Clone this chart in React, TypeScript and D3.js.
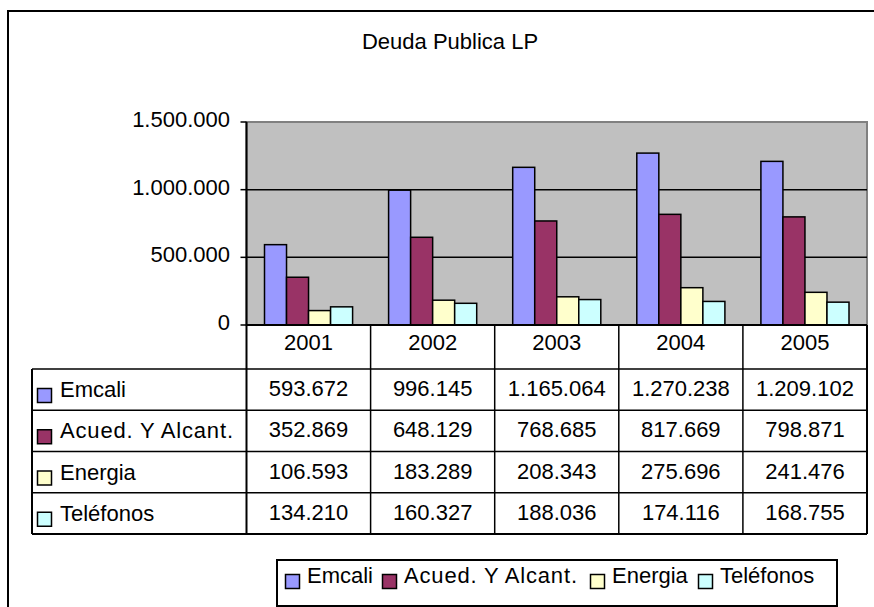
import React from "react";
import * as d3 from "d3";

const categories = ["2001", "2002", "2003", "2004", "2005"];
const seriesNames = ["Emcali", "Acued. Y Alcant.", "Energia", "Teléfonos"];
const emcali = [593672, 996145, 1165064, 1270238, 1209102];
const acued = [352869, 648129, 768685, 817669, 798871];
const energia = [106593, 183289, 208343, 275696, 241476];
const telefonos = [134210, 160327, 188036, 174116, 168755];
const yTicks = [0, 500000, 1000000, 1500000];
const title = "Deuda Publica LP";

const colors = ["#9999FF", "#993366", "#FFFFCC", "#CCFFFF"];

const locale = d3.formatLocale({ decimal: ",", thousands: ".", grouping: [3], currency: ["", ""] });
const fmt = locale.format(",d");

export default function App() {
  const W = 874, H = 607;
  const font = "'Liberation Sans', Arial, sans-serif";
  const fs = 22;
  const values = [emcali, acued, energia, telefonos];

  const plotL = 246.5, plotR = 867, plotT = 122, plotB = 325;
  const x = d3.scaleBand<string>().domain(categories).range([plotL, plotR]).paddingInner(0).paddingOuter(0);
  const inner = d3.scaleBand<string>().domain(seriesNames).range([18, x.bandwidth() - 18]).padding(0);
  const y = d3.scaleLinear().domain([0, 1500000]).range([plotB, plotT]);

  const tableL = 32, headerB = 369, tableB = 534;
  const rows = d3.scaleBand<string>().domain(seriesNames).range([headerB, tableB]);

  // legend layout (key square left edges)
  const legendSq = [285, 382, 590, 698];
  const legendBox = { x: 277, y: 560, w: 560, h: 46 };
  const wideLabel = (s: string) => (s === "Acued. Y Alcant." ? { textLength: 173, lengthAdjust: "spacing" } : {});

  return (
    <svg width={W} height={H} style={{ position: "absolute", left: 0, top: 0, background: "#fff" }} fontFamily={font}>
      <rect x={0} y={0} width={W} height={H} fill="#fff" />
      <rect x={8} y={11} width={1000} height={1000} fill="#fff" stroke="#000" strokeWidth={2} />
      <text x={450} y={49} fontSize={fs} textAnchor="middle">{title}</text>

      {/* plot area */}
      <rect x={plotL} y={plotT} width={plotR - plotL} height={plotB - plotT} fill="#C0C0C0" stroke="#808080" strokeWidth={2} />
      {yTicks.filter((t) => t > 0 && t < 1500000).map((t) => (
        <line key={t} x1={plotL} x2={plotR} y1={y(t)} y2={y(t)} stroke="#000" strokeWidth={1.5} />
      ))}
      {yTicks.map((t) => (
        <g key={"t" + t}>
          <line x1={plotL - 6} x2={plotL} y1={y(t)} y2={y(t)} stroke="#000" strokeWidth={1.5} />
          <text x={230} y={y(t) + 5} fontSize={fs} textAnchor="end">{fmt(t)}</text>
        </g>
      ))}

      {/* bars */}
      {categories.map((c, ci) => (
        <g key={c}>
          {seriesNames.map((s, si) => (
            <rect key={s}
              x={(x(c) as number) + (inner(s) as number)}
              y={y(values[si][ci])}
              width={inner.bandwidth()}
              height={plotB - y(values[si][ci])}
              fill={colors[si]} stroke="#000" strokeWidth={1.5} />
          ))}
        </g>
      ))}

      {/* axes */}
      <line x1={plotL} x2={plotL} y1={plotT} y2={tableB} stroke="#000" strokeWidth={2} />
      <line x1={plotL} x2={plotR} y1={plotB} y2={plotB} stroke="#000" strokeWidth={2} />

      {/* data table */}
      {categories.map((c) => (
        <g key={"h" + c}>
          <line x1={(x(c) as number) + x.bandwidth()} x2={(x(c) as number) + x.bandwidth()} y1={plotB} y2={tableB} stroke="#000" strokeWidth={1.5} />
          <text x={(x(c) as number) + x.bandwidth() / 2} y={plotB + 25} fontSize={fs} textAnchor="middle">{c}</text>
        </g>
      ))}
      <line x1={plotR} x2={plotR} y1={plotB} y2={tableB} stroke="#000" strokeWidth={2} />
      <line x1={tableL} x2={tableL} y1={headerB} y2={tableB} stroke="#000" strokeWidth={2} />
      {seriesNames.map((s, si) => {
        const top = rows(s) as number;
        return (
          <g key={"r" + s}>
            <line x1={tableL} x2={plotR} y1={top} y2={top} stroke="#000" strokeWidth={1.5} />
            <rect x={37.5} y={top + 19.5} width={14} height={14} fill={colors[si]} stroke="#000" strokeWidth={1.5} />
            <text x={60} y={top + 28} fontSize={fs} {...wideLabel(s)}>{s}</text>
            {categories.map((c, ci) => (
              <text key={c} x={(x(c) as number) + x.bandwidth() / 2} y={top + 27} fontSize={fs} textAnchor="middle">{fmt(values[si][ci])}</text>
            ))}
          </g>
        );
      })}
      <line x1={tableL} x2={plotR} y1={tableB} y2={tableB} stroke="#000" strokeWidth={2} />

      {/* legend */}
      <rect x={legendBox.x} y={legendBox.y} width={legendBox.w} height={legendBox.h} fill="#fff" stroke="#000" strokeWidth={2} />
      {seriesNames.map((s, si) => (
        <g key={"l" + s}>
          <rect x={legendSq[si] + 0.5} y={574.5} width={14} height={14} fill={colors[si]} stroke="#000" strokeWidth={1.5} />
          <text x={legendSq[si] + 22} y={583} fontSize={fs} {...wideLabel(s)}>{s}</text>
        </g>
      ))}
    </svg>
  );
}
